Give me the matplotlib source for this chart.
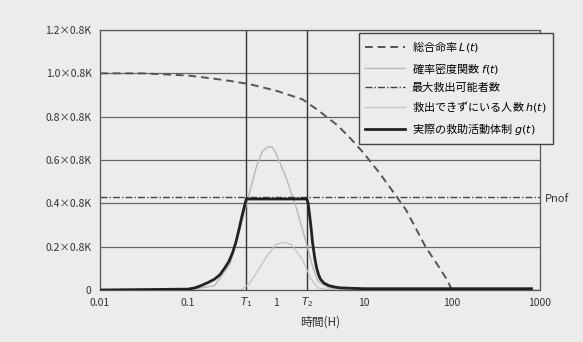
import numpy as np
import matplotlib
matplotlib.use("Agg")
import matplotlib.pyplot as plt

plt.rcParams['font.family'] = ['Noto Sans CJK JP', 'DejaVu Sans']

# curve values (time in hours, value in units of 0.8K)
t_L = [0.01, 0.03, 0.1, 0.2, 0.3, 0.5, 1, 2, 3, 5, 7, 10, 15, 20, 30, 50, 70, 87, 100]
L = [1.0, 1.0, 0.99, 0.975, 0.965, 0.95, 0.92, 0.88, 0.83, 0.76, 0.70, 0.63, 0.54, 0.47, 0.37, 0.20, 0.11, 0.05, 0.0]

t_f = [0.01, 0.1, 0.2, 0.3, 0.4, 0.5, 0.6, 0.7, 0.8, 0.9, 1.0, 1.3, 1.7, 2.2, 2.6, 3.0, 4.0, 10, 1000]
f = [0.0, 0.0, 0.02, 0.12, 0.30, 0.45, 0.57, 0.64, 0.66, 0.66, 0.63, 0.52, 0.38, 0.22, 0.11, 0.04, 0.01, 0.0, 0.0]

t_h = [0.01, 0.4, 0.5, 0.6, 0.8, 1.0, 1.2, 1.5, 2.0, 2.5, 3.0, 4.0, 1000]
h = [0.0, 0.0, 0.03, 0.08, 0.16, 0.21, 0.22, 0.21, 0.14, 0.05, 0.01, 0.0, 0.0]

t_g = [0.01, 0.1, 0.12, 0.14, 0.17, 0.2, 0.23, 0.26, 0.29, 0.32, 0.35, 0.38, 0.41, 0.44, 0.46,
       2.24, 2.32, 2.4, 2.5, 2.6, 2.75, 2.9, 3.05, 3.2, 3.5, 4.0, 4.6, 5.3, 7, 10, 800]
g = [0.0, 0.004, 0.01, 0.02, 0.035, 0.05, 0.07, 0.10, 0.13, 0.17, 0.22, 0.28, 0.34, 0.39, 0.42,
     0.42, 0.40, 0.35, 0.29, 0.22, 0.15, 0.10, 0.07, 0.05, 0.032, 0.02, 0.014, 0.01, 0.008, 0.006, 0.006]

pnof = 0.43
T1, T2 = 0.46, 2.24

yticks = [0, 0.2, 0.4, 0.6, 0.8, 1.0, 1.2]
ylabels = ['0', '0.2×0.8K', '0.4×0.8K', '0.6×0.8K', '0.8×0.8K', '1.0×0.8K', '1.2×0.8K']
xticks = [0.01, 0.1, 1, 10, 100, 1000]
xlabels = ['0.01', '0.1', '1', '10', '100', '1000']

bg = '#ececec'
fig = plt.figure(figsize=(5.83, 3.42), dpi=100, facecolor=bg)
ax = fig.add_axes([100/583, 1-290/342, 440/583, 260/342])
ax.set_facecolor(bg)

ax.set_xscale('log')
ax.set_xlim(0.01, 1000)
ax.set_ylim(0, 1.2)

for yv in yticks[1:]:
    ax.axhline(yv, color='#666666', lw=0.9, zorder=1)
ax.axvline(T1, color='#333333', lw=1.0, zorder=1)
ax.axvline(T2, color='#333333', lw=1.0, zorder=1)

l1, = ax.plot(t_L, L, color='#555555', lw=1.4, ls=(0, (4, 2.5)), label='総合命率 $L(t)$', zorder=3)
l2, = ax.plot(t_f, f, color='#b8b8b8', lw=1.0, label='確率密度関数 $f(t)$', zorder=2)
l3 = ax.axhline(pnof, color='#444444', lw=1.0, ls=(0, (5, 1.5, 1, 1.5)), label='最大救出可能者数', zorder=2)
l4, = ax.plot(t_h, h, color='#c4c4c4', lw=0.9, label='救出できずにいる人数 $h(t)$', zorder=2)
l5, = ax.plot(t_g, g, color='#222222', lw=2.0, label='実際の救助活動体制 $g(t)$', zorder=4)

ax.set_yticks(yticks)
ax.set_yticklabels(ylabels, fontsize=7.5, color='#333333')
ax.set_xticks(xticks)
ax.set_xticklabels(xlabels, fontsize=7.5, color='#333333')
ax.minorticks_off()
ax.tick_params(length=0, pad=6)
ax.set_xlabel('時間(H)', fontsize=8.5, color='#333333', labelpad=5)

for s in ax.spines.values():
    s.set_color('#555555')
    s.set_linewidth(0.9)

ax.text(T1, -0.025, '$T_1$', ha='center', va='top', fontsize=7.5, color='#333333')
ax.text(T2, -0.025, '$T_2$', ha='center', va='top', fontsize=7.5, color='#333333')
ax.text(1.01, pnof - 0.01, 'Pnof', transform=ax.get_yaxis_transform(), ha='left', va='center',
        fontsize=8, color='#333333', style='italic')

leg = fig.legend(handles=[l1, l2, l3, l4, l5], loc='upper left',
                 bbox_to_anchor=(353/583, 1-27/342), fontsize=8, frameon=True,
                 fancybox=False, handlelength=3.6, labelspacing=0.6, borderpad=0.6,
                 handletextpad=0.6)
leg.get_frame().set_facecolor(bg)
leg.get_frame().set_edgecolor('#444444')
leg.get_frame().set_alpha(1)

fig.savefig('out.png', dpi=100, facecolor=bg)
